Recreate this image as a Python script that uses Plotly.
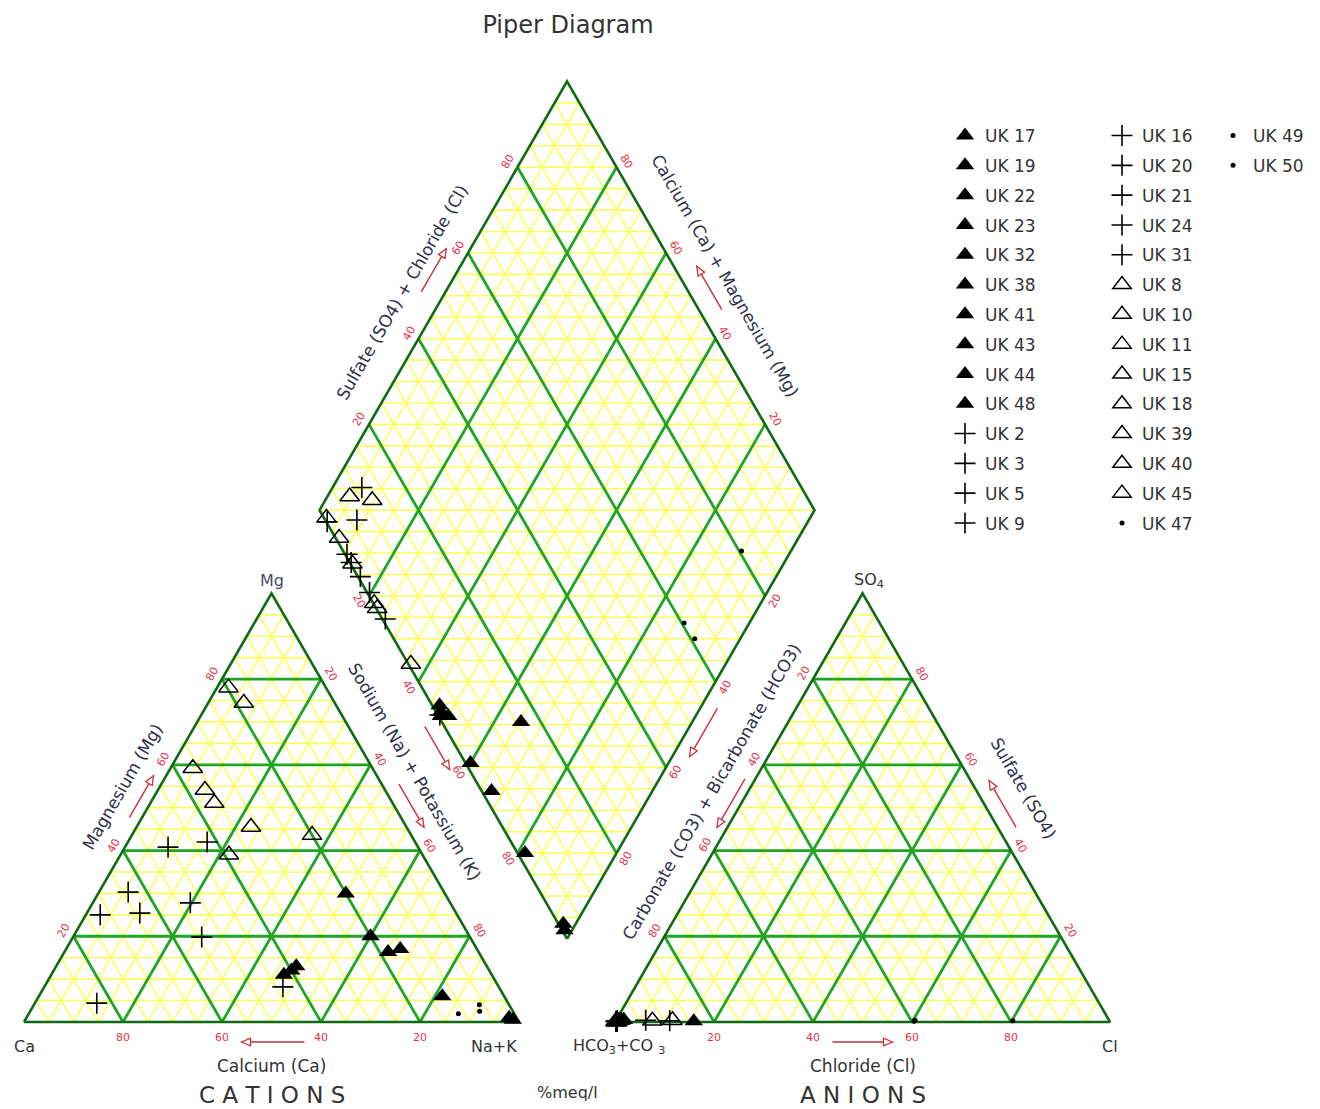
import math
import plotly.graph_objects as go

# ---------------- sample chemistry (% meq/l) ----------------
sample_names = [
    "UK 17", "UK 19", "UK 22", "UK 23", "UK 32", "UK 38", "UK 41", "UK 43", "UK 44", "UK 48",
    "UK 2", "UK 3", "UK 5", "UK 9", "UK 16", "UK 20", "UK 21", "UK 24", "UK 31",
    "UK 8", "UK 10", "UK 11", "UK 15", "UK 18", "UK 39", "UK 40", "UK 45",
    "UK 47", "UK 49", "UK 50",
]
sample_group = ["A"] * 10 + ["B"] * 9 + ["C"] * 8 + ["D"] * 3

ca_pct = [20.0, 40.0, 42.0, 38.5, 20.0, 18.3, 15.5, 12.5, 1.0, 1.5,
          50.5, 42.0, 63.8, 72.1, 63.9, 52.5, 54.2, 83.1, 43.6,
          19.7, 18.4, 36.3, 36.4, 36.0, 31.4, 20.0, 39.1,
          6.0, 11.3, 6.7]
mg_pct = [30.0, 12.0, 11.0, 13.0, 20.0, 16.3, 17.0, 6.0, 0.5, 1.0,
          40.8, 42.0, 30.3, 25.0, 25.4, 27.8, 19.8, 4.4, 8.2,
          78.0, 74.4, 59.2, 54.1, 51.1, 45.5, 43.6, 39.0,
          4.0, 1.9, 2.5]
nak_pct = [50.0, 48.0, 47.0, 48.5, 60.0, 65.4, 67.5, 81.5, 98.5, 97.5,
           8.7, 16.0, 5.9, 2.9, 10.7, 19.7, 26.0, 12.5, 48.2,
           2.3, 7.2, 4.5, 9.5, 12.9, 23.1, 36.4, 21.9,
           90.0, 86.8, 90.8]

hco3_pct = [98.0, 99.0, 98.5, 99.5, 99.0, 84.0, 98.0, 98.5, 99.5, 99.0,
            93.6, 99.5, 88.8, 99.8, 99.6, 99.5, 99.4, 99.7, 99.6,
            99.5, 99.3, 92.3, 88.2, 99.6, 99.8, 99.5, 99.8,
            19.5, 39.5, 39.2]
so4_pct = [0.5, 0.3, 0.5, 0.2, 0.4, 0.2, 0.5, 0.3, 0.2, 0.3,
           0.4, 0.2, 0.3, 0.1, 0.2, 0.2, 0.3, 0.1, 0.2,
           0.2, 0.3, 0.3, 0.4, 0.2, 0.1, 0.2, 0.1,
           0.3, 0.2, 0.4]
cl_pct = [1.5, 0.7, 1.0, 0.3, 0.6, 15.8, 1.5, 1.2, 0.3, 0.7,
          6.0, 0.3, 10.9, 0.1, 0.2, 0.3, 0.3, 0.2, 0.2,
          0.3, 0.4, 7.4, 11.4, 0.2, 0.1, 0.3, 0.1,
          80.2, 60.3, 60.4]

tick_values = [20, 40, 60, 80]

# ---------------- geometry ----------------
H = math.sqrt(3) / 2
GAP = 0.194            # gap between the two ternary triangles (in side lengths)
PX = 495.0             # pixels per side length
X0_PX, Y0_PX = 24.0, 1022.0
W, HGT = 1320, 1109

CA, NA, MG = (0.0, 0.0), (1.0, 0.0), (0.5, H)
HC, CL, SO = (1 + GAP, 0.0), (2 + GAP, 0.0), (1.5 + GAP, H)
DB = (1 + GAP / 2, GAP * H)
DL = (0.5 + GAP / 2, H + GAP * H)
DR = (1.5 + GAP / 2, H + GAP * H)
DT = (1 + GAP / 2, 2 * H + GAP * H)

N_LEFT_UP = (-H, 0.5)
N_RIGHT_UP = (H, 0.5)
N_LEFT_DOWN = (-H, -0.5)
N_RIGHT_DOWN = (H, -0.5)

YELLOW = "#ffff5c"
GREEN = "#1fa51f"
BORDER = "#0f6a12"
RED = "#e8324a"
RED_ARROW = "#c9303a"
TEXT = "#333333"
TITLE_TEXT = "#30304a"
FONT = "DejaVu Sans"


def lerp(p0, p1, t):
    return (p0[0] + t * (p1[0] - p0[0]), p0[1] + t * (p1[1] - p0[1]))


def shift(p, nrm, d_px):
    return (p[0] + nrm[0] * d_px / PX, p[1] + nrm[1] * d_px / PX)


def cation_xy(ca, mg, na):
    tot = ca + mg + na
    m, n = mg / tot, na / tot
    return n + m / 2, m * H


def anion_xy(hco3, so4, cl):
    tot = hco3 + so4 + cl
    s, c = so4 / tot, cl / tot
    return 1 + GAP + c + s / 2, s * H


def diamond_xy(ca, mg, na, hco3, so4, cl):
    n = na / (ca + mg + na)
    b = hco3 / (hco3 + so4 + cl)
    x = (n + 2 + GAP - b) / 2
    s = (2 + GAP - b - n) / 2
    return x, 2 * H * s


# ---------------- grid segments ----------------
yellow_x, yellow_y, green_x, green_y = [], [], [], []


def add_seg(p0, p1, major):
    xs, ys = (green_x, green_y) if major else (yellow_x, yellow_y)
    xs += [p0[0], p1[0], None]
    ys += [p0[1], p1[1], None]


def triangle_grid(ox):
    for k in range(1, 20):
        f = k / 20
        major = k % 4 == 0
        add_seg((ox + f / 2, f * H), (ox + 1 - f / 2, f * H), major)
        add_seg((ox + f, 0), (ox + f + (1 - f) / 2, (1 - f) * H), major)
        add_seg((ox + f, 0), (ox + f / 2, f * H), major)


triangle_grid(0.0)
triangle_grid(1 + GAP)

# diamond: two diagonal families plus horizontal rulings
for k in range(1, 20):
    f = k / 20
    major = k % 4 == 0
    p = lerp(DB, DR, f)
    add_seg(p, (p[0] - 0.5, p[1] + H), major)
    q = lerp(DB, DL, f)
    add_seg(q, (q[0] + 0.5, q[1] + H), major)
for k in range(1, 40):
    d = k * 0.05 * H
    w = (d / H) * 0.5 if d <= H else ((2 * H - d) / H) * 0.5
    add_seg((DB[0] - w, DB[1] + d), (DB[0] + w, DB[1] + d), False)

border_x, border_y = [], []
for poly in ([CA, NA, MG, CA], [HC, CL, SO, HC], [DB, DR, DT, DL, DB]):
    border_x += [p[0] for p in poly] + [None]
    border_y += [p[1] for p in poly] + [None]

fig = go.Figure()
fig.add_trace(go.Scatter(x=yellow_x, y=yellow_y, mode="lines", hoverinfo="skip",
                         line=dict(color=YELLOW, width=1.6), showlegend=False))
fig.add_trace(go.Scatter(x=green_x, y=green_y, mode="lines", hoverinfo="skip",
                         line=dict(color=GREEN, width=2.8), showlegend=False))
fig.add_trace(go.Scatter(x=border_x, y=border_y, mode="lines", hoverinfo="skip",
                         line=dict(color=BORDER, width=2.6), showlegend=False))

# ---------------- samples ----------------
marker_styles = {
    "A": dict(symbol="triangle-up", size=16, color="black"),
    "B": dict(symbol="cross-thin", size=15, color="black", line=dict(width=1.6, color="black")),
    "C": dict(symbol="triangle-up-open", size=17, color="black", line=dict(width=1.5, color="black")),
    "D": dict(symbol="circle", size=5, color="black"),
}
legend_ids = ["legend"] * 14 + ["legend2"] * 14 + ["legend3"] * 2

for i, name in enumerate(sample_names):
    cx, cy = cation_xy(ca_pct[i], mg_pct[i], nak_pct[i])
    axx, ayy = anion_xy(hco3_pct[i], so4_pct[i], cl_pct[i])
    dx, dy = diamond_xy(ca_pct[i], mg_pct[i], nak_pct[i], hco3_pct[i], so4_pct[i], cl_pct[i])
    fig.add_trace(go.Scatter(
        x=[cx, axx, dx], y=[cy, ayy, dy], mode="markers", name=name,
        marker=marker_styles[sample_group[i]], legend=legend_ids[i], legendgroup=name,
    ))

# ---------------- annotations ----------------
ann = []
shapes = []


def label(p, text, size=11, color=RED, angle=0, **kw):
    d = dict(x=p[0], y=p[1], xref="x", yref="y", text=text, showarrow=False,
             font=dict(family=FONT, size=size, color=color), textangle=angle,
             xanchor="center", yanchor="middle")
    d.update(kw)
    ann.append(d)


TICK_D = 11
for v in tick_values:
    f = v / 100
    # cation triangle
    label(shift((1 - f, 0), (0, -1), 15), str(v))
    label(shift((f / 2, f * H), N_LEFT_UP, TICK_D), str(v), angle=-60)
    label(shift((1 - f / 2, f * H), N_RIGHT_UP, TICK_D), str(100 - v), angle=60)
    # anion triangle
    label(shift((1 + GAP + f, 0), (0, -1), 15), str(v))
    label(shift((1 + GAP + f / 2, f * H), N_LEFT_UP, TICK_D), str(100 - v), angle=-60)
    label(shift((2 + GAP - f / 2, f * H), N_RIGHT_UP, TICK_D), str(v), angle=60)
    # diamond
    label(shift(lerp(DL, DT, f), N_LEFT_UP, TICK_D), str(v), angle=-60)
    label(shift(lerp(DR, DT, f), N_RIGHT_UP, TICK_D), str(v), angle=60)
    label(shift(lerp(DB, DL, f), N_LEFT_DOWN, TICK_D), str(100 - v), angle=60)
    label(shift(lerp(DB, DR, f), N_RIGHT_DOWN, TICK_D), str(100 - v), angle=-60)

# edge titles
label(shift(lerp(CA, MG, 0.51), N_LEFT_UP, 32), "Magnesium (Mg)", size=17, color=TITLE_TEXT, angle=-60)
label(shift(lerp(NA, MG, 0.543), N_RIGHT_UP, 35), "Sodium (Na) + Potassium (K)", size=17,
      color=TITLE_TEXT, angle=60)
label(shift(lerp(DL, DT, 0.465), N_LEFT_UP, 37), "Sulfate (SO4) + Chloride (Cl)", size=17,
      color=TITLE_TEXT, angle=-60)
label(shift(lerp(DR, DT, 0.5), N_RIGHT_UP, 40), "Calcium (Ca) + Magnesium (Mg)", size=17,
      color=TITLE_TEXT, angle=60)
label(shift(lerp(HC, SO, 0.5), N_LEFT_UP, 32), "Carbonate (CO3) + Bicarbonate (HCO3)", size=17,
      color=TITLE_TEXT, angle=-60)
label(shift(lerp(CL, SO, 0.497), N_RIGHT_UP, 42), "Sulfate (SO4)", size=17, color=TITLE_TEXT, angle=60)
label(shift((0.5, 0), (0, -1), 44), "Calcium (Ca)", size=17, color=TEXT)
label(shift((1.5 + GAP, 0), (0, -1), 44), "Chloride (Cl)", size=17, color=TEXT)
label(shift((0.5, 0), (0, -1), 73), "C A T I O N S", size=23, color=TEXT)
label(shift((1.5 + GAP, 0), (0, -1), 73), "A N I O N S", size=23, color=TEXT)
label(shift(((1 + GAP / 2), 0), (0, -1), 70), "%meq/l", size=16, color=TEXT)

# corner names
label(shift(MG, (0, 1), 13), "Mg", size=16, color="#4a4a66")
label(shift(CA, (0, -1), 24), "Ca", size=16, color=TEXT)
label(shift(NA, (0, -1), 24), "Na+K", size=16, color=TEXT, xanchor="right")
label(shift(SO, (0, 1), 13), "SO<sub>4</sub>", size=16, color=TEXT, xshift=6)
label(shift(HC, (0, -1), 24), "HCO<sub>3</sub>+CO <sub>3</sub>", size=16, color=TEXT,
      xanchor="left", xshift=-44)
label(shift(CL, (0, -1), 24), "Cl", size=16, color=TEXT)


# direction arrows: a thin red shaft with an open triangular head
def edge_arrow(p0, p1, t, nrm, d_px, toward_p1, length_px=55):
    c = shift(lerp(p0, p1, t), nrm, d_px)
    ex, ey = p1[0] - p0[0], p1[1] - p0[1]
    L = math.hypot(ex, ey)
    ex, ey = ex / L, ey / L
    if not toward_p1:
        ex, ey = -ex, -ey
    half = length_px / 2 / PX
    head = (c[0] + ex * half, c[1] + ey * half)
    tail = (c[0] - ex * half, c[1] - ey * half)
    shapes.append(dict(type="line", xref="x", yref="y", x0=tail[0], y0=tail[1],
                       x1=head[0], y1=head[1], line=dict(color=RED_ARROW, width=1.4)))
    hl, hw = 9 / PX, 3.8 / PX
    nx, ny = -ey, ex
    bx, by = head[0] - ex * hl, head[1] - ey * hl
    path = (f"M {head[0]},{head[1]} L {bx + nx * hw},{by + ny * hw} "
            f"L {bx - nx * hw},{by - ny * hw} Z")
    shapes.append(dict(type="path", xref="x", yref="y", path=path,
                       line=dict(color=RED_ARROW, width=1.3), fillcolor="white"))


edge_arrow(CA, MG, 0.513, N_LEFT_UP, 11, True, 48)
edge_arrow(NA, MG, 0.487, N_RIGHT_UP, 15, False, 50)
edge_arrow(DB, DL, 0.465, N_LEFT_DOWN, 17, False, 50)
edge_arrow((0.0, 0.0), (1.0, 0.0), 0.503, (0, -1), 20, False, 63)
edge_arrow(HC, CL, 0.5, (0, -1), 20, True, 60)
edge_arrow(CL, SO, 0.49, N_RIGHT_UP, 16, True, 54)
edge_arrow(HC, SO, 0.50, N_LEFT_UP, 9, False, 56)
edge_arrow(DB, DR, 0.499, N_RIGHT_DOWN, 15, False, 56)
edge_arrow(DL, DT, 0.535, N_LEFT_UP, 21, True, 50)
edge_arrow(DR, DT, 0.495, N_RIGHT_UP, 20, True, 50)

legend_common = dict(font=dict(family=FONT, size=17, color=TEXT), bgcolor="rgba(0,0,0,0)",
                     borderwidth=0, xanchor="left", yanchor="top", tracegroupgap=4.7,
                     itemclick=False, itemdoubleclick=False)

fig.update_layout(
    width=W, height=HGT,
    margin=dict(l=0, r=0, t=0, b=0),
    paper_bgcolor="white", plot_bgcolor="white",
    title=dict(text="Piper Diagram", x=568 / W, y=1 - 25 / HGT, xref="paper", yref="paper",
               xanchor="center", yanchor="middle", font=dict(family=FONT, size=24, color=TEXT)),
    xaxis=dict(range=[-X0_PX / PX, (W - X0_PX) / PX], visible=False, fixedrange=True),
    yaxis=dict(range=[-(HGT - Y0_PX) / PX, Y0_PX / PX], visible=False, fixedrange=True),
    annotations=ann,
    shapes=shapes,
    showlegend=True,
    legend=dict(x=945 / W, y=1 - 118 / HGT, **legend_common),
    legend2=dict(x=1102 / W, y=1 - 118 / HGT, **legend_common),
    legend3=dict(x=1213 / W, y=1 - 118 / HGT, **legend_common),
)

fig.write_html("out.html")
